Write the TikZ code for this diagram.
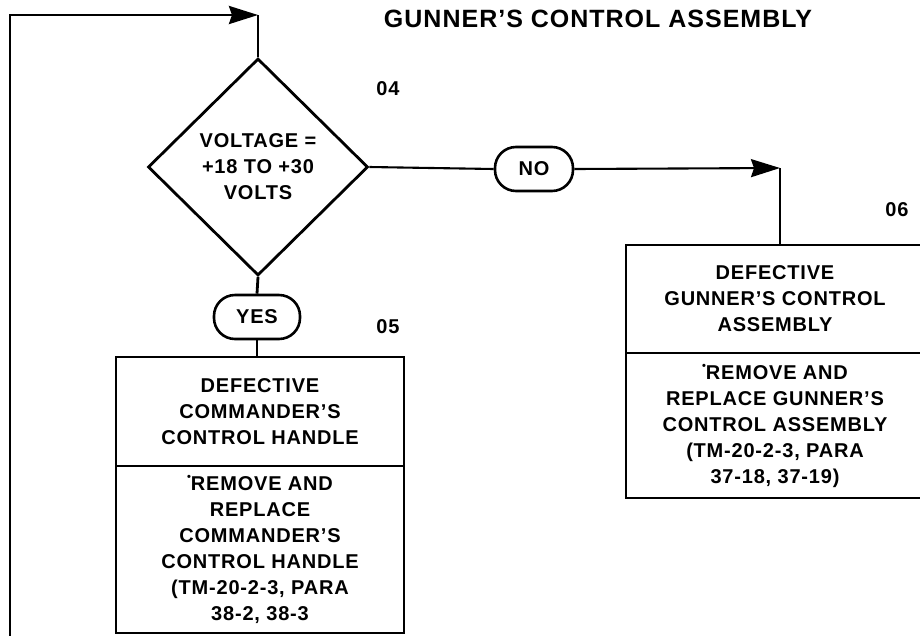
\documentclass[tikz,border=0pt]{standalone}
\usepackage{fontspec}
\setmainfont{Liberation Sans}[LetterSpace=4]
\usetikzlibrary{arrows.meta,shapes.geometric}
\tikzset{
  txt/.style={font=\bfseries\fontsize{20}{26}\selectfont, align=center, inner sep=0pt},
  boxpart/.style={txt, draw, line width=2.8pt, minimum width=#1},
  oval/.style={txt, draw, line width=2.6pt, rounded corners=21pt, minimum height=44pt},
  conn/.style={line width=2.8pt},
  thin conn/.style={line width=2.1pt},
  bigarrow/.style={-{Stealth[length=29pt,width=18pt,inset=3pt]}},
  numlbl/.style={font=\bfseries\fontsize{20}{22}\selectfont, inner sep=0pt}
}
\newcommand{\stardot}{\raisebox{0.5em}{\fontsize{11}{11}\selectfont •}}
\begin{document}
\begin{tikzpicture}[x=1pt,y=-1pt]
\useasboundingbox (0,0) rectangle (920,635);

\node[font=\bfseries\fontsize{25}{28}\selectfont, inner sep=0pt] (title) at (598,19) {GUNNER’S CONTROL ASSEMBLY};

\node[numlbl] (n04) at (388,89) {04};
\node[numlbl] (n05) at (388,327) {05};
\node[numlbl] (n06) at (897,210) {06};

\node[txt, draw, diamond, line width=2.8pt, minimum width=220pt, minimum height=217pt] (dec) at (258,167)
  {VOLTAGE =\\+18 TO +30\\VOLTS};

\node[oval, minimum width=78pt] (no) at (534,169) {NO};
\node[oval, minimum width=86pt] (yes) at (257,317) {YES};

\node[boxpart=288pt, minimum height=109pt] (lbtop) at (260,411.5)
  {DEFECTIVE\\COMMANDER’S\\CONTROL HANDLE};
\node[boxpart=288pt, minimum height=167pt] (lbbot) at (260,549.5)
  {\stardot REMOVE AND\\REPLACE\\COMMANDER’S\\CONTROL HANDLE\\(TM-20-2-3, PARA\\38-2, 38-3};

\node[boxpart=298pt, minimum height=108pt] (rbtop) at (775,299)
  {DEFECTIVE\\GUNNER’S CONTROL\\ASSEMBLY};
\node[boxpart=298pt, minimum height=145pt] (rbbot) at (775,425.5)
  {\stardot REMOVE AND\\REPLACE GUNNER’S\\CONTROL ASSEMBLY\\(TM-20-2-3, PARA\\37-18, 37-19)};

\coordinate (loopstart) at (10,636);
\coordinate (topcorner) at (258,15);
\coordinate (rightcorner) at (780,168);

\draw[conn, bigarrow] (loopstart) |- (topcorner);
\draw[conn] (topcorner) -- (dec.north);

\draw[thin conn] (dec.east) -- (no.west);
\draw[thin conn, bigarrow] (no.east) -- (rightcorner);
\draw[conn] (rightcorner) -- (rightcorner |- rbtop.north);

\draw[conn] (dec.south) -- (yes.north);
\draw[conn] (yes.south) -- (yes.south |- lbtop.north);
\end{tikzpicture}
\end{document}
